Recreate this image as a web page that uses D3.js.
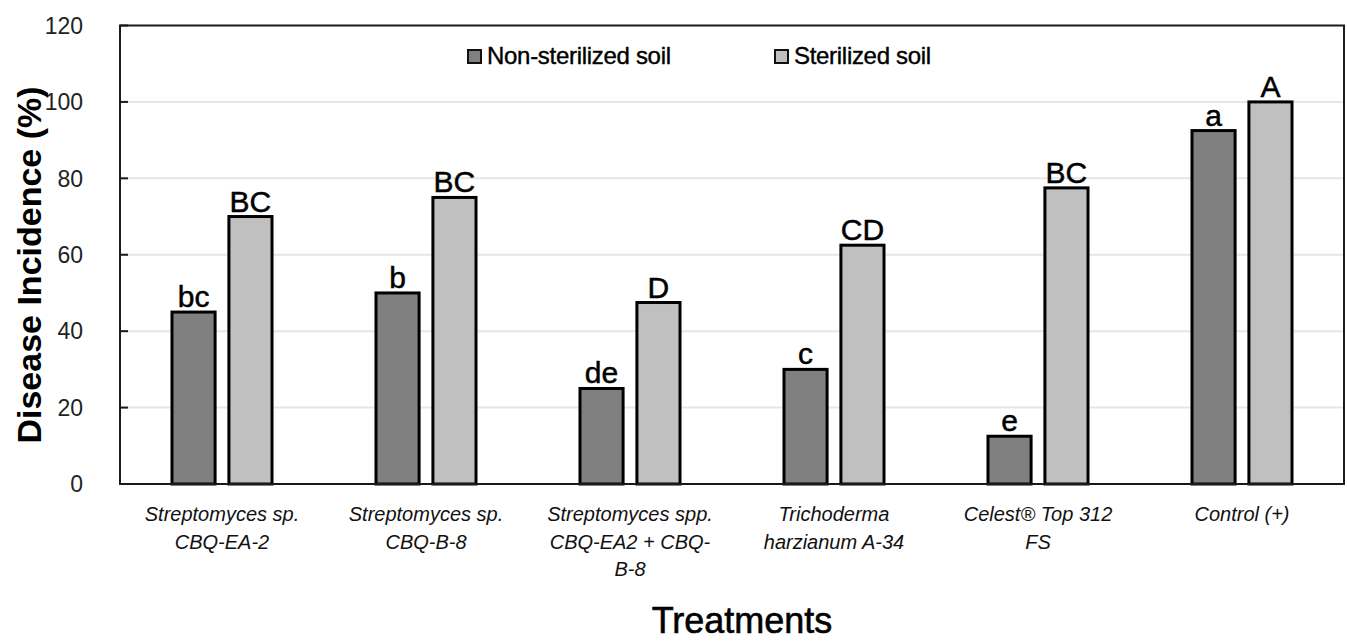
<!DOCTYPE html>
<html>
<head>
<meta charset="utf-8">
<script src="https://cdn.jsdelivr.net/npm/d3@7"></script>
<style>
  html, body { margin: 0; padding: 0; background: #fff; }
  svg { display: block; font-family: "Liberation Sans", Arial, sans-serif; }
</style>
</head>
<body>
<svg id="chart" width="1347" height="642"></svg>
<script>
// ---- data ----
const categories = ["g1", "g2", "g3", "g4", "g5", "g6"];
const categoryLabels = [
  ["Streptomyces sp.", "CBQ-EA-2"],
  ["Streptomyces sp.", "CBQ-B-8"],
  ["Streptomyces spp.", "CBQ-EA2 + CBQ-", "B-8"],
  ["Trichoderma", "harzianum A-34"],
  ["Celest® Top 312", "FS"],
  ["Control (+)"]
];
const seriesNames = ["Non-sterilized soil", "Sterilized soil"];
const nonSterilized = [45, 50, 25, 30, 12.5, 92.5];
const sterilized = [70, 75, 47.5, 62.5, 77.5, 100];
const nonSterilizedLetters = ["bc", "b", "de", "c", "e", "a"];
const sterilizedLetters = ["BC", "BC", "D", "CD", "BC", "A"];
const yTicks = [0, 20, 40, 60, 80, 100, 120];

// ---- layout ----
const svg = d3.select("#chart");
const mLeft = 120, mRight = 1344, mTop = 25.5, mBottom = 484;
const colors = ["#808080", "#c0c0c0"];

const x0 = d3.scaleBand().domain(categories).range([mLeft, mRight])
  .paddingInner(0.495).paddingOuter(0.2475);
const x1 = d3.scaleBand().domain(seriesNames).range([0, x0.bandwidth()])
  .paddingInner(0.19);
const y = d3.scaleLinear().domain([0, 120]).range([mBottom, mTop]);

// gridlines
svg.append("g").selectAll("line").data(yTicks.filter(t => t > 0 && t < 120)).join("line")
  .attr("x1", mLeft).attr("x2", mRight)
  .attr("y1", d => y(d)).attr("y2", d => y(d))
  .attr("stroke", "#e6e6e6").attr("stroke-width", 2);

// bars
const rows = categories.map((c, i) => ({
  c,
  vals: [
    { s: seriesNames[0], v: nonSterilized[i], l: nonSterilizedLetters[i] },
    { s: seriesNames[1], v: sterilized[i], l: sterilizedLetters[i] }
  ]
}));
const sw = 3;
const g = svg.append("g").selectAll("g").data(rows).join("g")
  .attr("transform", d => `translate(${x0(d.c)},0)`);
g.selectAll("rect").data(d => d.vals).join("rect")
  .attr("x", d => x1(d.s) + sw / 2)
  .attr("width", x1.bandwidth() - sw)
  .attr("y", d => y(d.v))
  .attr("height", d => mBottom - y(d.v))
  .attr("fill", (d, i) => colors[i])
  .attr("stroke", "#000").attr("stroke-width", sw);
g.selectAll("text").data(d => d.vals).join("text")
  .attr("x", d => x1(d.s) + x1.bandwidth() / 2)
  .attr("y", d => y(d.v) - 5)
  .attr("text-anchor", "middle")
  .attr("font-size", 30)
  .attr("fill", "#000")
  .attr("stroke", "#000").attr("stroke-width", 0.5)
  .text(d => d.l);

// frame
svg.append("rect").attr("x", mLeft).attr("y", mTop)
  .attr("width", mRight - mLeft).attr("height", mBottom - mTop)
  .attr("fill", "none").attr("stroke", "#1a1a1a").attr("stroke-width", 2);

// y axis ticks (inward) and labels
const yAxis = svg.append("g");
yAxis.selectAll("line").data(yTicks).join("line")
  .attr("x1", mLeft).attr("x2", mLeft + 8)
  .attr("y1", d => y(d)).attr("y2", d => y(d))
  .attr("stroke", "#1a1a1a").attr("stroke-width", 2);
yAxis.selectAll("text").data(yTicks).join("text")
  .attr("x", 83).attr("y", d => y(d))
  .attr("dy", "0.36em")
  .attr("text-anchor", "end")
  .attr("font-size", 23)
  .attr("fill", "#222")
  .text(d => d);

// x labels
const xl = svg.append("g").selectAll("text").data(categories).join("text")
  .attr("text-anchor", "middle")
  .attr("font-size", 20)
  .attr("font-style", "italic")
  .attr("fill", "#111");
xl.each(function(d, i) {
  const t = d3.select(this);
  categoryLabels[i].forEach((line, k) => {
    t.append("tspan").attr("x", x0(d) + x0.bandwidth() / 2)
      .attr("y", 521 + k * 27.5).text(line);
  });
});

// axis titles
svg.append("text")
  .attr("transform", "translate(41,265) rotate(-90)")
  .attr("text-anchor", "middle")
  .attr("font-size", 34)
  .attr("font-weight", "bold")
  .attr("fill", "#000")
  .text("Disease Incidence (%)");
svg.append("text")
  .attr("x", 742).attr("y", 633)
  .attr("text-anchor", "middle")
  .attr("font-size", 36)
  .attr("fill", "#000")
  .attr("stroke", "#000").attr("stroke-width", 0.6)
  .text("Treatments");

// legend
const legendX = [467, 774];
const lg = svg.append("g").selectAll("g").data(seriesNames).join("g")
  .attr("transform", (d, i) => `translate(${legendX[i]},49)`);
lg.append("rect").attr("x", 1).attr("y", 1).attr("width", 13).attr("height", 13)
  .attr("fill", (d, i) => colors[i]).attr("stroke", "#111").attr("stroke-width", 2);
lg.append("text").attr("x", 20).attr("y", 15)
  .attr("font-size", 24).attr("fill", "#000")
  .attr("stroke", "#000").attr("stroke-width", 0.4)
  .attr("letter-spacing", -0.3)
  .text(d => d);
</script>
</body>
</html>
